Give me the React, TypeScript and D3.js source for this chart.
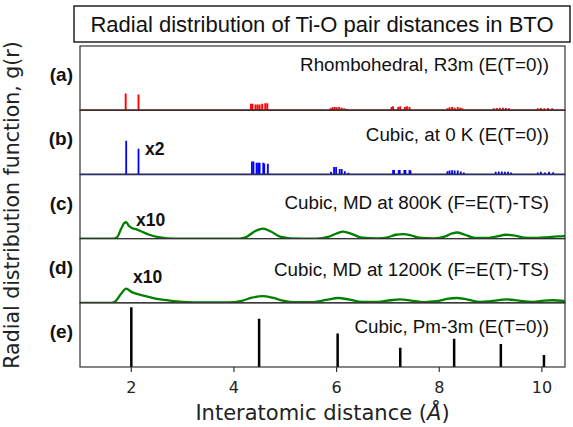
import React from "react";
import * as d3 from "d3";

// x ticks
const xTicks = [2, 4, 6, 8, 10];

// (a) rhombohedral R3m, spikes [r, g]
const rhomboPeaks: [number, number][] = [
  [1.89, 0.26], [2.14, 0.245],
  [4.33, 0.10], [4.36, 0.10], [4.42, 0.09], [4.46, 0.09], [4.50, 0.09], [4.55, 0.10], [4.61, 0.11], [4.65, 0.11],
  [5.88, 0.03], [5.92, 0.045], [5.96, 0.05], [6.00, 0.045], [6.05, 0.05], [6.10, 0.04], [6.15, 0.03], [6.20, 0.02],
  [7.07, 0.05], [7.10, 0.06], [7.20, 0.05], [7.24, 0.06], [7.33, 0.05], [7.37, 0.06], [7.42, 0.05],
  [8.16, 0.03], [8.20, 0.045], [8.25, 0.05], [8.30, 0.04], [8.36, 0.05], [8.41, 0.04], [8.45, 0.03],
  [9.06, 0.03], [9.12, 0.035], [9.18, 0.04], [9.24, 0.04], [9.30, 0.035], [9.36, 0.03],
  [9.92, 0.03], [9.98, 0.035], [10.05, 0.03], [10.12, 0.035], [10.20, 0.03],
];

// (b) cubic at 0 K
const cubic0KPeaks: [number, number][] = [
  [1.90, 0.525], [2.14, 0.40],
  [4.35, 0.20], [4.38, 0.20], [4.44, 0.18], [4.47, 0.18], [4.50, 0.18], [4.57, 0.18], [4.59, 0.17], [4.66, 0.165],
  [5.89, 0.04], [5.95, 0.115], [5.99, 0.115], [6.06, 0.085], [6.10, 0.085], [6.16, 0.05], [6.23, 0.025],
  [7.10, 0.07], [7.12, 0.07], [7.21, 0.07], [7.23, 0.07], [7.32, 0.07], [7.34, 0.07], [7.42, 0.07], [7.44, 0.06],
  [8.16, 0.05], [8.20, 0.06], [8.25, 0.065], [8.30, 0.06], [8.36, 0.06], [8.42, 0.045], [8.48, 0.03],
  [9.10, 0.04], [9.16, 0.045], [9.22, 0.045], [9.28, 0.04], [9.34, 0.04], [9.40, 0.03],
  [9.92, 0.03], [9.98, 0.04], [10.06, 0.03], [10.14, 0.04], [10.22, 0.035],
];

// (c) MD 800K curve
const md800: [number, number][] = [
  [1.0, 0], [1.65, 0], [1.72, 0.02], [1.8, 0.15], [1.86, 0.24], [1.9, 0.255], [1.95, 0.2], [2.02, 0.16],
  [2.1, 0.145], [2.2, 0.11], [2.35, 0.06], [2.5, 0.025], [2.7, 0.005], [3.0, 0], [4.1, 0], [4.25, 0.03],
  [4.4, 0.11], [4.56, 0.155], [4.72, 0.11], [4.9, 0.03], [5.1, 0.005], [5.6, 0], [5.85, 0.03], [6.0, 0.08],
  [6.13, 0.11], [6.3, 0.07], [6.5, 0.015], [6.8, 0.005], [7.0, 0.02], [7.15, 0.06], [7.3, 0.07], [7.45, 0.05],
  [7.6, 0.015], [7.9, 0.005], [8.1, 0.03], [8.25, 0.08], [8.34, 0.095], [8.5, 0.06], [8.7, 0.01], [8.9, 0.01],
  [9.1, 0.03], [9.3, 0.06], [9.45, 0.05], [9.65, 0.015], [9.9, 0.01], [10.1, 0.02], [10.3, 0.035], [10.45, 0.04],
];

// (d) MD 1200K curve
const md1200: [number, number][] = [
  [1.0, 0], [1.62, 0], [1.7, 0.03], [1.8, 0.14], [1.9, 0.22], [2.0, 0.17], [2.2, 0.12], [2.45, 0.07],
  [2.75, 0.035], [3.0, 0.015], [3.4, 0.005], [3.9, 0.005], [4.15, 0.03], [4.35, 0.08], [4.56, 0.105], [4.75, 0.08],
  [4.95, 0.035], [5.2, 0.01], [5.5, 0.01], [5.8, 0.045], [6.03, 0.075], [6.25, 0.05], [6.5, 0.015], [6.8, 0.015],
  [7.05, 0.04], [7.24, 0.052], [7.45, 0.035], [7.7, 0.012], [7.95, 0.025], [8.15, 0.06], [8.34, 0.075], [8.55, 0.05],
  [8.8, 0.015], [9.0, 0.025], [9.32, 0.052], [9.55, 0.035], [9.8, 0.015], [10.0, 0.03], [10.2, 0.04], [10.45, 0.025],
];

// (e) cubic Pm-3m ideal shells
const idealPeaks: [number, number][] = [
  [2.0, 0.93], [4.49, 0.75], [6.02, 0.52], [7.24, 0.30], [8.29, 0.44], [9.2, 0.36], [10.04, 0.185],
];

const panelLabels = ["(a)", "(b)", "(c)", "(d)", "(e)"];
const panelTexts = [
  "Rhombohedral, R3m (E(T=0))",
  "Cubic, at 0 K (E(T=0))",
  "Cubic, MD at 800K (F=E(T)-TS)",
  "Cubic, MD at 1200K (F=E(T)-TS)",
  "Cubic, Pm-3m (E(T=0))",
];

const W = 573, H = 427;
const left = 80, right = 565, top = 46, bottom = 367;
const nPanels = 5;
const ph = (bottom - top) / nPanels;
const textOffset = [25, 31, 35, 37, 30];

const arial = "'Liberation Sans', Arial, sans-serif";
const dejavu = "'DejaVu Sans', sans-serif";

const App = () => {
  const x = d3.scaleLinear().domain([1, 10.45]).range([left, right]);
  const panelTop = (i: number) => top + i * ph;
  const yFor = (i: number) =>
    d3.scaleLinear().domain([0, 1]).range([panelTop(i) + ph, panelTop(i)]);

  const spikes = (data: [number, number][], i: number, color: string, sw: number) => {
    const y = yFor(i);
    return (
      <g clipPath={`url(#clip${i})`}>
        {data.map((d, k) => (
          <line key={k} x1={x(d[0])} x2={x(d[0])} y1={y(0)} y2={y(d[1])} stroke={color} strokeWidth={sw} />
        ))}
      </g>
    );
  };

  const curve = (data: [number, number][], i: number) => {
    const y = yFor(i);
    const line = d3.line<[number, number]>()
      .x(d => x(d[0]))
      .y(d => y(d[1]))
      .curve(d3.curveMonotoneX);
    return (
      <g clipPath={`url(#clip${i})`}>
        <path d={line(data) || ""} fill="none" stroke="#008000" strokeWidth={2.3} />
      </g>
    );
  };

  return (
    <svg width={W} height={H} style={{ position: "absolute", left: 0, top: 0, background: "#fff" }}>
      <defs>
        {d3.range(nPanels).map(i => (
          <clipPath id={`clip${i}`} key={i}>
            <rect x={left} y={panelTop(i)} width={right - left} height={ph} />
          </clipPath>
        ))}
      </defs>

      {/* title box */}
      <rect x={74} y={6} width={496} height={36} fill="#fff" stroke="#000" strokeWidth={1.3} />
      <text x={322} y={32} textAnchor="middle" fontFamily={arial} fontSize={22} fill="#111">
        Radial distribution of Ti-O pair distances in BTO
      </text>

      {/* data */}
      <line x1={left} x2={right} y1={yFor(0)(0)} y2={yFor(0)(0)} stroke="#ff0000" strokeWidth={1.5} />
      {spikes(rhomboPeaks, 0, "#ff0000", 1.9)}
      <line x1={left} x2={right} y1={yFor(1)(0)} y2={yFor(1)(0)} stroke="#0000ff" strokeWidth={1.5} />
      {spikes(cubic0KPeaks, 1, "#0000ff", 1.8)}
      {curve(md800, 2)}
      {curve(md1200, 3)}
      {spikes(idealPeaks, 4, "#000", 2.5)}

      {/* panel frames */}
      {d3.range(nPanels).map(i => (
        <rect key={i} x={left} y={panelTop(i)} width={right - left} height={ph}
          fill="none" stroke="#333" strokeWidth={1.2} />
      ))}

      {/* panel labels and annotations */}
      {panelLabels.map((l, i) => (
        <text key={l} x={73} y={panelTop(i) + ph / 2 + 3} textAnchor="end"
          fontFamily={arial} fontWeight="bold" fontSize={19} fill="#111">{l}</text>
      ))}
      {panelTexts.map((t, i) => (
        <text key={t} x={549} y={panelTop(i) + textOffset[i]} textAnchor="end"
          fontFamily={arial} fontSize={18.8} fill="#111">{t}</text>
      ))}
      <text x={145} y={155} fontFamily={arial} fontWeight="bold" fontSize={17.5} fill="#111">x2</text>
      <text x={136} y={226} fontFamily={arial} fontWeight="bold" fontSize={17.5} fill="#111">x10</text>
      <text x={133} y={283} fontFamily={arial} fontWeight="bold" fontSize={17.5} fill="#111">x10</text>

      {/* x axis */}
      {xTicks.map(t => (
        <g key={t}>
          <line x1={x(t)} x2={x(t)} y1={bottom} y2={bottom + 5} stroke="#333" strokeWidth={1.2} />
          <text x={x(t)} y={393} textAnchor="middle" fontFamily={dejavu} fontSize={16} fill="#222">{t}</text>
        </g>
      ))}
      <text x={(left + right) / 2} y={420} textAnchor="middle" fontFamily={dejavu} fontSize={21} fill="#222">
        Interatomic distance (<tspan fontStyle="italic">Å</tspan>)
      </text>

      {/* y label */}
      <text transform={`translate(19, 205) rotate(-90)`} textAnchor="middle" fontFamily={dejavu}
        fontSize={20.5} fill="#222">
        Radial distribution function, g(r)
      </text>
    </svg>
  );
};

export default App;
